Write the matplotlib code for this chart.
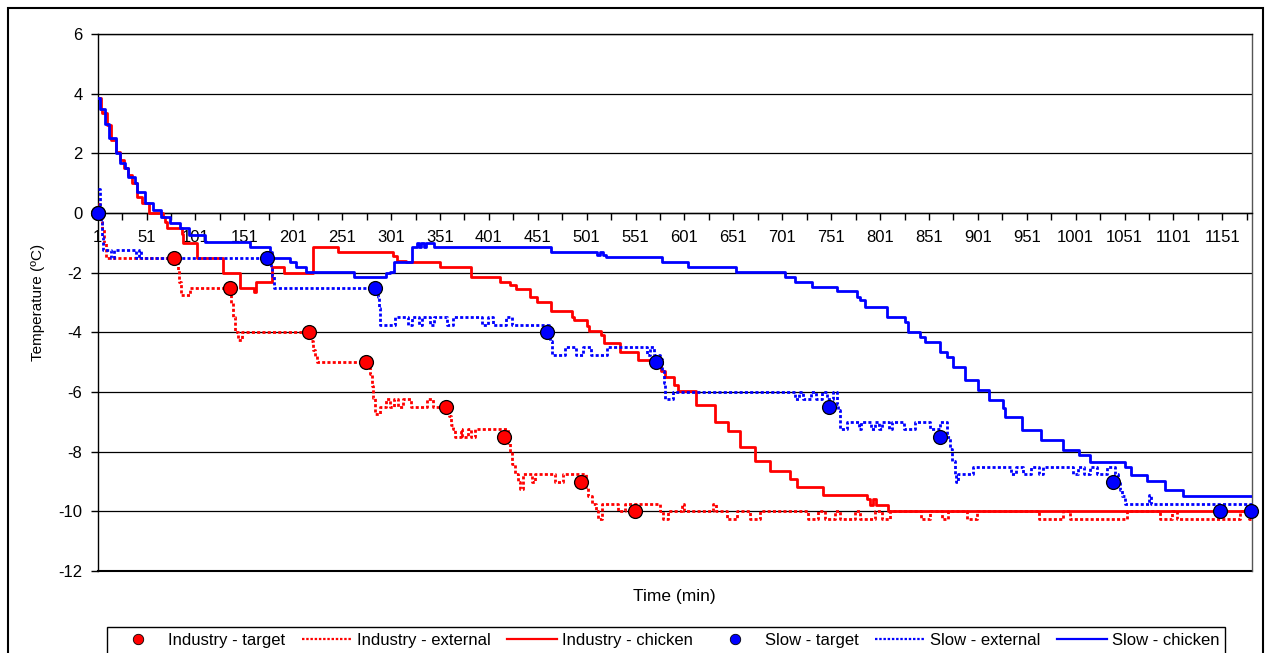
import matplotlib
matplotlib.use("Agg")
import matplotlib.pyplot as plt
import matplotlib.patches as patches
from matplotlib.lines import Line2D

plt.rcParams['font.family'] = ['Liberation Sans', 'DejaVu Sans']
plt.rcParams['axes.unicode_minus'] = False

# target temperature set points (minute, degC)
ind_target = [(1, 0), (79, -1.5), (136, -2.5), (217, -4), (275, -5), (357, -6.5),
              (416, -7.5), (495, -9), (550, -10)]
slow_target = [(1, 0), (174, -1.5), (285, -2.5), (460, -4), (572, -5), (749, -6.5),
               (862, -7.5), (1039, -9), (1149, -10), (1180, -10)]

# logged temperatures, stored as (minute, value) at every change of reading
ind_chicken = [(1, 3.85), (4, 3.5), (5, 3.34), (10, 2.95), (15, 2.45), (20, 2.06), (24, 1.78),
               (28, 1.5), (32, 1.27), (36, 1.0), (41, 0.55), (46, 0.32), (53, 0.0), (68, -0.12),
               (70, -0.29), (72, -0.5), (87, -0.7), (88, -1.0), (103, -1.5), (129, -2.0),
               (147, -2.5), (161, -2.65), (163, -2.3), (179, -1.8), (192, -2.0), (221, -1.15),
               (247, -1.3), (303, -1.45), (307, -1.6), (316, -1.65), (351, -1.8), (383, -2.13),
               (412, -2.3), (423, -2.4), (429, -2.55), (443, -2.8), (450, -2.97), (465, -3.3),
               (486, -3.48), (488, -3.6), (501, -3.8), (503, -3.95), (516, -4.1), (519, -4.35),
               (535, -4.65), (553, -4.93), (570, -5.15), (577, -5.3), (581, -5.5), (590, -5.75),
               (594, -5.97), (613, -6.45), (632, -7.0), (646, -7.3), (658, -7.83), (673, -8.3),
               (688, -8.65), (709, -8.92), (716, -9.17), (743, -9.45), (788, -9.6), (791, -9.8),
               (794, -9.6), (797, -9.8), (809, -10.0), (1181, -10.0)]

ind_external = [(1, 0.3), (3, 0.0), (5, -0.5), (7, -1.0), (9, -1.5),
                (83, -1.9), (84, -2.3), (86, -2.75), (95, -2.5),
                (137, -3.0), (139, -3.5), (141, -4.0), (144, -4.25), (149, -4.0),
                (219, -4.3), (221, -4.6), (223, -4.8), (225, -5.0),
                (279, -5.4), (281, -5.8), (283, -6.2), (285, -6.75), (290, -6.5), (296, -6.25),
                (300, -6.5), (304, -6.25), (308, -6.5), (313, -6.25), (321, -6.5), (338, -6.25),
                (344, -6.5),
                (360, -6.8), (362, -7.1), (364, -7.25), (366, -7.5), (372, -7.25), (374, -7.5),
                (380, -7.25), (383, -7.5), (387, -7.25),
                (421, -7.7), (423, -8.0), (425, -8.4), (428, -8.75), (431, -9.0), (433, -9.25),
                (436, -8.75), (445, -9.0), (448, -8.75), (469, -9.0), (477, -8.75),
                (500, -9.2), (502, -9.5), (506, -9.75), (511, -10.0), (513, -10.25), (517, -9.75),
                (533, -10.0), (540, -9.75), (576, -10.0), (579, -10.25), (584, -10.0), (598, -9.75),
                (601, -10.0), (630, -9.75), (633, -10.0), (644, -10.25), (655, -10.0),
                (668, -10.25), (678, -10.0), (727, -10.25), (738, -10.0), (745, -10.25),
                (755, -10.0), (760, -10.25), (775, -10.0), (780, -10.25), (796, -10.0),
                (803, -10.25), (811, -10.0), (843, -10.25), (852, -10.0), (864, -10.25),
                (870, -10.0), (890, -10.25), (900, -10.0), (963, -10.25), (988, -10.0),
                (995, -10.25), (1054, -10.0), (1087, -10.25), (1100, -10.0), (1105, -10.25),
                (1169, -10.0), (1178, -10.25), (1181, -10.25)]

slow_chicken = [(1, 3.85), (3, 3.5), (8, 3.0), (13, 2.5), (20, 2.0), (24, 1.67), (29, 1.5),
                (32, 1.22), (39, 1.0), (41, 0.71), (49, 0.32), (58, 0.1), (66, -0.12), (75, -0.35),
                (85, -0.51), (94, -0.74), (111, -0.96), (157, -1.13), (177, -1.3), (179, -1.5),
                (198, -1.63), (204, -1.8), (214, -1.97), (263, -2.13), (296, -2.0), (300, -1.97),
                (304, -1.63), (322, -1.13), (327, -1.0), (330, -1.13), (332, -1.0), (335, -1.13),
                (337, -1.0), (345, -1.13), (465, -1.3), (512, -1.4), (515, -1.3), (518, -1.4),
                (521, -1.46), (578, -1.63), (605, -1.8), (654, -1.97), (704, -2.13), (714, -2.3),
                (731, -2.47), (757, -2.6), (777, -2.8), (780, -2.92), (786, -3.14), (808, -3.48),
                (826, -3.64), (830, -3.98), (842, -4.15), (847, -4.31), (862, -4.65), (869, -4.82),
                (876, -5.15), (888, -5.6), (901, -5.93), (912, -6.27), (927, -6.55), (929, -6.83),
                (946, -7.27), (966, -7.61), (988, -7.94), (1004, -8.11), (1016, -8.34),
                (1051, -8.5), (1058, -8.78), (1074, -8.98), (1092, -9.29), (1111, -9.48),
                (1181, -9.48)]

slow_external = [(1, 0.8), (3, 0.2), (4, -0.3), (5, -0.8), (6, -1.25), (15, -1.5), (18, -1.25),
                 (40, -1.5), (43, -1.25), (45, -1.5),
                 (178, -1.8), (179, -2.1), (181, -2.5),
                 (288, -2.8), (289, -3.2), (290, -3.75), (305, -3.5), (318, -3.75), (322, -3.5),
                 (330, -3.75), (333, -3.5), (341, -3.75), (345, -3.5), (358, -3.75), (364, -3.5),
                 (394, -3.75), (400, -3.5), (405, -3.75), (418, -3.5), (425, -3.75),
                 (462, -4.1), (464, -4.3), (466, -4.75), (479, -4.5), (490, -4.75), (497, -4.5),
                 (505, -4.75), (522, -4.5), (563, -4.75), (566, -4.5), (570, -4.75), (576, -4.9),
                 (578, -5.3), (580, -5.7), (581, -6.25), (589, -6.0), (714, -6.25), (718, -6.0),
                 (722, -6.25), (730, -6.0), (735, -6.25), (742, -6.0), (747, -6.25), (753, -6.0),
                 (757, -6.4), (758, -6.6), (760, -7.25), (767, -7.0), (779, -7.25), (782, -7.0),
                 (792, -7.25), (796, -7.0), (800, -7.25), (803, -7.0), (810, -7.25), (813, -7.0),
                 (825, -7.25), (837, -7.0), (852, -7.25), (862, -7.0),
                 (869, -7.5), (872, -7.9), (875, -8.3), (878, -8.75), (879, -9.0), (881, -8.75),
                 (896, -8.5), (935, -8.75), (940, -8.5), (947, -8.75), (955, -8.5), (964, -8.75),
                 (968, -8.5), (998, -8.75), (1003, -8.5), (1010, -8.75), (1016, -8.5),
                 (1023, -8.75), (1033, -8.5), (1041, -8.75),
                 (1044, -9.0), (1046, -9.3), (1048, -9.5), (1051, -9.75), (1076, -9.45),
                 (1078, -9.75), (1181, -9.75)]

x_labels = list(range(1, 1152, 50))
y_ticks = list(range(-12, 7, 2))

RED = '#ff0000'
BLUE = '#0000ff'
DOTS = (0, (1.1, 0.8))
LW = 2.0

fig = plt.figure(figsize=(12.69, 6.53), dpi=100)
ax = fig.add_axes([97.7 / 1269, 1 - 571 / 653, (1251.7 - 97.7) / 1269, (571 - 34) / 653])


def xy(points):
    t, v = zip(*points)
    return list(t), list(v)


# Excel-style series order: industry first, slow series on top
t, v = xy(ind_external)
ax.step(t, v, where='post', color=RED, lw=LW, ls=DOTS, zorder=3)
t, v = xy(ind_chicken)
ax.step(t, v, where='post', color=RED, lw=LW, zorder=3)
t, v = xy(slow_external)
ax.step(t, v, where='post', color=BLUE, lw=LW, ls=DOTS, zorder=3)
t, v = xy(slow_chicken)
ax.step(t, v, where='post', color=BLUE, lw=LW, zorder=3)

t, v = xy(ind_target)
ax.plot(t, v, 'o', color=RED, mec='black', mew=0.9, ms=10, zorder=5, clip_on=False)
t, v = xy(slow_target)
ax.plot(t, v, 'o', color=BLUE, mec='black', mew=0.9, ms=10, zorder=5, clip_on=False)

ax.set_xlim(1, 1181)
ax.set_ylim(-12, 6)

# category axis crosses at zero
ax.spines['bottom'].set_position(('data', 0))
for s in ax.spines.values():
    s.set_color('black')
    s.set_linewidth(1.0)
ax.spines['right'].set_color('#555555')
ax.set_yticks(y_ticks)
ax.yaxis.grid(True, color='black', lw=0.9)
ax.set_axisbelow(True)
# bottom edge of the plot area
ax.axhline(-12, color='black', lw=1.5, clip_on=False, zorder=2)

ax.set_xticks(x_labels)
ax.set_xticklabels([str(x) for x in x_labels])
ax.set_xticks(list(range(26, 1181, 50)), minor=True)
ax.tick_params(axis='x', which='both', direction='out', length=5, width=1, pad=7,
               labelsize=12)
ax.tick_params(axis='y', direction='out', length=5, width=1, pad=6, labelsize=12)

fig.text(674.7 / 1269, 1 - 597 / 653, 'Time (min)', ha='center', va='center', fontsize=12.5)
fig.text(38 / 1269, 1 - 302 / 653, 'Temperature (ºC)', ha='center', va='center',
         rotation=90, fontsize=11)

handles = [
    Line2D([], [], ls='none', marker='o', color=RED, mec='black', mew=0.6, ms=7.5),
    Line2D([], [], color=RED, lw=1.6, ls=DOTS),
    Line2D([], [], color=RED, lw=1.6),
    Line2D([], [], ls='none', marker='o', color=BLUE, mec='black', mew=0.6, ms=7.5),
    Line2D([], [], color=BLUE, lw=1.6, ls=DOTS),
    Line2D([], [], color=BLUE, lw=1.6),
]
labels = ['Industry - target', 'Industry - external', 'Industry - chicken',
          'Slow - target', 'Slow - external', 'Slow - chicken']
leg = fig.legend(handles, labels, ncol=6, loc='upper left',
                 bbox_to_anchor=(107 / 1269, 1 - 627 / 653), borderaxespad=0,
                 fontsize=12, handlelength=3.0, handletextpad=0.3, columnspacing=1.0,
                 borderpad=0.35, fancybox=False, framealpha=1)
leg.get_frame().set_edgecolor('black')
leg.get_frame().set_linewidth(1.0)

# chart border
fig.patches.append(patches.Rectangle((8 / 1269, -0.05), (1263 - 8) / 1269, 1 - 8 / 653 + 0.05,
                                     transform=fig.transFigure, fill=False,
                                     edgecolor='black', lw=1.5))

fig.savefig('out.png', dpi=100)
